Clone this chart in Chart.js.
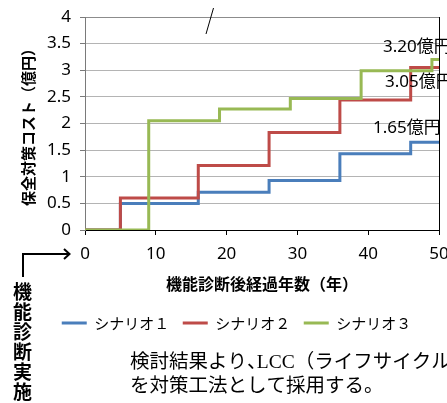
<!DOCTYPE html>
<html lang="ja">
<head>
<meta charset="utf-8">
<title>保全対策コスト</title>
<script src="https://cdn.jsdelivr.net/npm/chart.js@4/dist/chart.umd.min.js"></script>
<style>
  html, body { margin: 0; padding: 0; background: #fff; }
  #wrap { width: 447px; height: 403px; overflow: hidden; }
</style>
</head>
<body>
<div id="wrap"><canvas id="c" width="447" height="403"></canvas></div>
<script>
// Scenario names
const scenarioNames = ['シナリオ１', 'シナリオ２', 'シナリオ３'];

// Cumulative cost (億円) for each scenario; each value holds from its year onward
const years1 = [0, 5, 16, 26, 36, 46, 50];
const cost1  = [0, 0.50, 0.71, 0.93, 1.43, 1.65, 1.65];
const years2 = [0, 5, 16, 26, 36, 46, 50];
const cost2  = [0, 0.60, 1.21, 1.83, 2.44, 3.05, 3.05];
const years3 = [0, 9, 19, 29, 39, 49, 50];
const cost3  = [0, 2.05, 2.27, 2.47, 2.99, 3.20, 3.20];

// Axis ticks and titles
const xTicks = [0, 10, 20, 30, 40, 50];
const yTicks = [0, 0.5, 1, 1.5, 2, 2.5, 3, 3.5, 4];
const yTickLabels = ['0', '0.5', '1', '1.5', '2', '2.5', '3', '3.5', '4'];
const xTitle = '機能診断後経過年数（年）';
const yTitle = '保全対策コスト（億円）';

// Side note and body text
const sideNote = '機能診断実施';
const bodyLine1 = ['検討結果より', '、', 'LCC（ライフサイクルコスト）'];
const bodyLine2 = 'を対策工法として採用する。';

const lineColors = ['#4a7ebb', '#be4b48', '#98b954'];

function toPoints(xs, ys) {
  return xs.map((x, i) => ({ x: x, y: ys[i] }));
}

function makeSet(i, xs, ys, order) {
  return {
    label: scenarioNames[i],
    data: toPoints(xs, ys),
    stepped: 'before',
    borderColor: lineColors[i],
    backgroundColor: lineColors[i],
    borderWidth: 3,
    pointRadius: 0,
    pointHoverRadius: 0,
    pointBorderWidth: 3,
    pointBorderColor: lineColors[i],
    fill: false,
    order: order
  };
}

// Value labels at the end of each line, plus the side note, arrow and body text
const notes = {
  id: 'notes',
  afterDraw(chart) {
    const ctx = chart.ctx;
    const xs = chart.scales.x;
    const ys = chart.scales.y;
    ctx.save();

    // end-of-line cost labels
    const finals = [
      { years: years1, cost: cost1, dx: -66, dy: -14 },
      { years: years2, cost: cost2, dx: -54, dy: 15 },
      { years: years3, cost: cost3, dx: -56, dy: -12 }
    ];
    ctx.fillStyle = '#000';
    ctx.font = '17px "Noto Sans", "Noto Sans CJK JP", sans-serif';
    ctx.textAlign = 'left';
    ctx.textBaseline = 'middle';
    finals.forEach(f => {
      const n = f.cost.length - 1;
      const px = xs.getPixelForValue(f.years[n]);
      const py = ys.getPixelForValue(f.cost[n]);
      ctx.fillText(f.cost[n].toFixed(2) + '億円', px + f.dx, py + f.dy);
    });

    // small stroke above the plot
    ctx.strokeStyle = '#000';
    ctx.lineWidth = 1;
    ctx.beginPath();
    ctx.moveTo(213.5, 8);
    ctx.lineTo(206, 34);
    ctx.stroke();

    // bracket arrow pointing at year 0
    ctx.lineWidth = 2;
    ctx.beginPath();
    ctx.moveTo(23, 277);
    ctx.lineTo(23, 254);
    ctx.lineTo(69, 254);
    ctx.stroke();
    ctx.beginPath();
    ctx.moveTo(64, 249);
    ctx.lineTo(69.5, 254);
    ctx.lineTo(64, 259);
    ctx.stroke();

    // vertical side note
    ctx.font = 'bold 19px "Noto Sans CJK JP", sans-serif';
    ctx.textAlign = 'center';
    ctx.textBaseline = 'middle';
    Array.from(sideNote).forEach((ch, i) => {
      ctx.fillText(ch, 22.5, 292 + i * 20);
    });

    // body text (the ideographic comma takes a half-width step)
    ctx.font = '19.5px "Liberation Serif", "Noto Sans CJK JP", serif';
    ctx.textAlign = 'left';
    let x = 130;
    ctx.fillText(bodyLine1[0], x, 363);
    x += ctx.measureText(bodyLine1[0]).width;
    ctx.fillText(bodyLine1[1], x, 363);
    x += ctx.measureText(bodyLine1[1]).width / 2;
    ctx.fillText(bodyLine1[2], x, 363);
    ctx.fillText(bodyLine2, 130, 387);

    ctx.restore();
  }
};

const tickFont = { family: '"Noto Sans", sans-serif', size: 17 };
const titleFont = { family: '"Noto Sans CJK JP", sans-serif', weight: 'bold' };

new Chart(document.getElementById('c'), {
  type: 'line',
  data: {
    datasets: [
      makeSet(0, years1, cost1, 2),
      makeSet(1, years2, cost2, 1),
      makeSet(2, years3, cost3, 0)
    ]
  },
  options: {
    responsive: false,
    animation: false,
    events: [],
    layout: { padding: { top: 17, left: 26, right: 0, bottom: 62.5 } },
    plugins: {
      tooltip: { enabled: false },
      legend: {
        position: 'bottom',
        labels: {
          usePointStyle: true,
          pointStyle: 'line',
          pointStyleWidth: 25,
          padding: 13.5,
          color: '#000',
          font: { family: '"Noto Sans CJK JP", sans-serif', size: 15 },
          sort: (a, b) => a.datasetIndex - b.datasetIndex
        }
      }
    },
    scales: {
      x: {
        type: 'linear',
        min: 0,
        max: 50,
        afterBuildTicks: s => { s.ticks = xTicks.map(v => ({ value: v })); },
        ticks: { font: tickFont, color: '#000', padding: 9, maxRotation: 0, autoSkip: false },
        grid: { drawOnChartArea: false, drawTicks: true, tickLength: 5, tickColor: '#000' },
        border: { color: '#000', width: 1 },
        title: {
          display: true,
          text: xTitle,
          color: '#000',
          font: Object.assign({ size: 16 }, titleFont),
          padding: { top: 0, bottom: 8 }
        },
        afterFit: s => { s.height = 72; s.paddingRight = 8; s.paddingLeft = 0; }
      },
      y: {
        type: 'linear',
        min: 0,
        max: 4,
        afterBuildTicks: s => { s.ticks = yTicks.map(v => ({ value: v })); },
        ticks: {
          font: tickFont,
          color: '#000',
          padding: 9,
          autoSkip: false,
          callback: (value, index) => yTickLabels[index]
        },
        grid: {
          color: c => (c.tick && c.tick.value === 0) ? 'rgba(0,0,0,0)' : (c.tick && c.tick.value === 4 ? '#8c8c8c' : '#b4b4b4'),
          tickColor: '#7a7a7a',
          tickLength: 5,
          drawTicks: true
        },
        border: { color: '#7a7a7a', width: 1 },
        title: {
          display: true,
          text: yTitle,
          color: '#000',
          font: Object.assign({ size: 15, lineHeight: 1 }, titleFont),
          padding: { top: -5, bottom: 0 }
        },
        afterFit: s => { s.width = 59; s.paddingTop = 0; s.paddingBottom = 0; }
      },
      y2: {
        type: 'linear',
        position: 'right',
        min: 0,
        max: 4,
        ticks: { display: false },
        grid: { drawOnChartArea: false, drawTicks: false },
        border: { color: '#000', width: 1 },
        afterFit: s => { s.width = 0; }
      }
    }
  },
  plugins: [notes]
});
</script>
</body>
</html>
